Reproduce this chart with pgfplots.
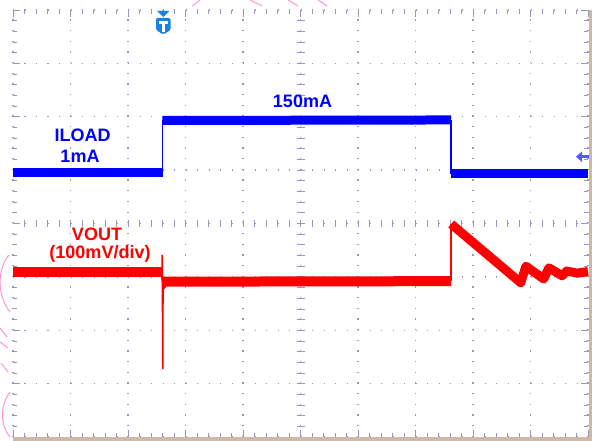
\documentclass[border=0pt]{standalone}
\usepackage{pgfplots}
\pgfplotsset{compat=1.18}
\usepackage{fontspec}
\setmainfont{Liberation Sans}
\definecolor{grd}{RGB}{150,150,190}
\definecolor{topc}{RGB}{190,190,140}
\definecolor{tanc}{RGB}{205,185,165}
\definecolor{pinkc}{RGB}{255,150,210}
\definecolor{trig}{RGB}{25,130,225}
\definecolor{chblue}{RGB}{0,0,255}
\definecolor{chred}{RGB}{255,0,0}
\definecolor{markb}{RGB}{80,90,255}
\begin{document}
\begin{tikzpicture}[x=1pt,y=1pt]
\useasboundingbox (0,0) rectangle (592,441);
% decorative pink arcs
\begin{scope}[pinkc, line width=1pt]
\draw (192,435) -- (200,441);
\draw (250,441) -- (262,435);
\draw (288,441) -- (298,435);
\draw (318,441) -- (327,435);
\draw (9,186) .. controls (-3,172) and (-3,145) .. (10,129);
\draw (0,113) -- (7,104);
\draw (0,99) -- (8,93);
\draw (1,78) -- (8,69);
\draw (10,49) .. controls (0,36) and (0,16) .. (10,4);
\end{scope}
\begin{axis}[
  at={(13pt,4pt)}, anchor=south west,
  scale only axis, width=575pt, height=427pt,
  xmin=0, xmax=10, ymin=0, ymax=8,
  xtick={0,...,10}, ytick={0,...,8},
  minor x tick num=4, minor y tick num=4,
  xticklabels={}, yticklabels={},
  tick align=inside,
  major tick length=7pt, minor tick length=4pt,
  tick style={grd, line width=0.8pt},
  axis line style={draw=none},
  grid=major,
  x grid style={grd, line width=1.3pt, dash pattern=on 1.3pt off 9.375pt},
  y grid style={grd, line width=1.3pt, dash pattern=on 1.3pt off 10.2pt},
  clip=false,
]
% centre cross ticks
\pgfplotsinvokeforeach{0.2,0.4,...,9.8}{\draw[grd, line width=0.8pt] (axis cs:#1,4) ++(0,-3.5pt) -- ++(0,7pt);}
\pgfplotsinvokeforeach{0.2,0.4,...,7.8}{\draw[grd, line width=0.8pt] (axis cs:5,#1) ++(-4pt,0) -- ++(8pt,0);}
% ILOAD
\addplot[chblue, line width=9pt] coordinates {(0,4.95) (2.60,4.95)};
\addplot[chblue, line width=1.5pt] coordinates {(2.60,4.95) (2.60,5.93)};
\addplot[chblue, line width=9pt] coordinates {(2.60,5.93) (7.62,5.94)};
\addplot[chblue, line width=1.5pt] coordinates {(7.62,5.94) (7.62,4.93)};
\addplot[chblue, line width=9pt] coordinates {(7.62,4.93) (10,4.93)};
% VOUT
\addplot[chred, line width=10pt] coordinates {(0,3.09) (2.60,3.09)};
\addplot[chred, line width=1.5pt] coordinates {(2.595,3.09) (2.595,3.41) (2.605,1.27) (2.61,2.95)};
\addplot[chred, line width=3pt, line join=round] coordinates {(2.60,3.0) (2.63,2.80) (2.66,2.96) (2.70,2.85)};
\addplot[chred, line width=10pt] coordinates {(2.63,2.91) (7.62,2.92)};
\addplot[chred, line width=1.5pt] coordinates {(7.62,2.92) (7.62,3.99)};
\addplot[chred, line width=9pt, line join=round] coordinates {(7.62,3.99) (8.83,2.89) (8.92,3.20) (9.23,2.96) (9.32,3.17) (9.55,3.02) (9.63,3.11) (9.81,3.07) (10,3.10)};
\end{axis}
% frame bands
\fill[tanc] (13,0) rectangle (592,3.5);
\fill[tanc] (588.5,0) rectangle (592,431);
% labels
\begin{scope}[every node/.style={font=\fontsize{18}{20}\selectfont\bfseries, anchor=base, inner sep=0pt}]
\node[chblue] at (82.5,299) {ILOAD};
\node[chblue] at (80,278) {1mA};
\node[chblue] at (302.5,333) {150mA};
\node[chred] at (97,200) {VOUT};
\node[chred] at (100,182) {(100mV/div)};
\end{scope}
% trigger marker
\fill[trig] (157,430) -- (169.5,430) -- (163.3,424) -- cycle;
\fill[trig, rounded corners=1.5pt] (156,423) -- (170.7,423) -- (170.7,411) -- (163.3,406.5) -- (156,411) -- cycle;
\draw[white, line width=2.5pt] (159,418.5) -- (167.7,418.5);
\draw[white, line width=2.8pt] (163.3,418.5) -- (163.3,409);
% reference arrow
\fill[markb] (576,284.3) -- (582,289.5) -- (582,279) -- cycle;
\draw[markb, line width=2.5pt] (581,284.3) -- (589,284.3);
\end{tikzpicture}
\end{document}
